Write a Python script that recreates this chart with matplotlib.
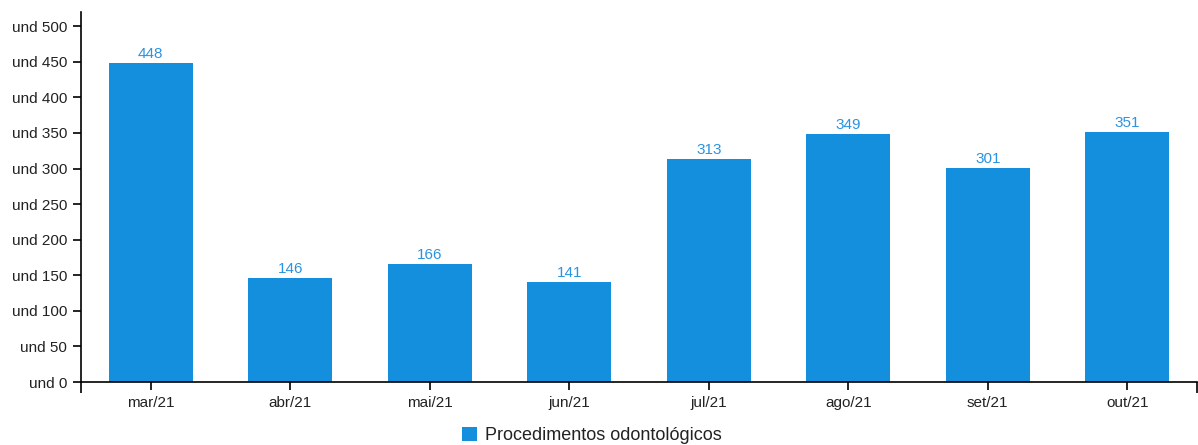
import matplotlib.pyplot as plt
from matplotlib.patches import Patch

# Monthly dental procedures
months = ['mar/21', 'abr/21', 'mai/21', 'jun/21', 'jul/21', 'ago/21', 'set/21', 'out/21']
values = [448, 146, 166, 141, 313, 349, 301, 351]
y_ticks = [0, 50, 100, 150, 200, 250, 300, 350, 400, 450, 500]
y_labels = ['und %d' % v for v in y_ticks]

bar_color = '#138fdd'
label_color = '#2b93e0'

plt.rcParams['font.family'] = ['Liberation Sans', 'DejaVu Sans']

fig = plt.figure(figsize=(11.98, 4.45), dpi=100)
ax = fig.add_axes([81 / 1198, (445 - 382) / 445, 1116 / 1198, 370 / 445])

x = list(range(len(months)))
bars = ax.bar(x, values, width=0.6, color=bar_color)

for xi, v in zip(x, values):
    ax.text(xi, v + 3, str(v), ha='center', va='bottom', color=label_color, fontsize=11)

ax.set_xlim(-0.5, len(months) - 0.5)
ax.set_ylim(0, 520)
ax.set_yticks(y_ticks)
ax.set_yticklabels(y_labels, fontsize=11, color='#222222')
ax.set_xticks(x)
ax.set_xticklabels(months, fontsize=11, color='#222222')
ax.set_xticks([-0.5, len(months) - 0.5], minor=True)

ax.tick_params(axis='both', which='major', length=6, width=1.2, color='black', pad=4)
ax.tick_params(axis='x', which='minor', length=8, width=1.2, color='black')

for side in ['top', 'right']:
    ax.spines[side].set_visible(False)
for side in ['left', 'bottom']:
    ax.spines[side].set_linewidth(1.2)

handle = Patch(facecolor=bar_color, edgecolor='none')
leg = fig.legend([handle], ['Procedimentos odontológicos'], loc='lower center',
                 bbox_to_anchor=(0.494, -0.035), frameon=False, fontsize=13,
                 handlelength=0.85, handleheight=0.85, handletextpad=0.45)
for t in leg.get_texts():
    t.set_color('#222222')

plt.savefig('out.png', dpi=100)
